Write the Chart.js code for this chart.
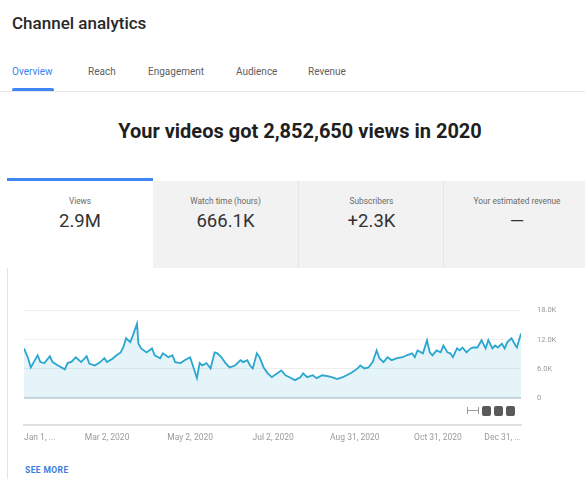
<!DOCTYPE html>
<html><head><meta charset="utf-8">
<script src="https://cdn.jsdelivr.net/npm/chart.js@4.4.0/dist/chart.umd.min.js"></script>
<style>
html,body{margin:0;padding:0;width:585px;height:479px;overflow:hidden;background:#fff;font-family:Roboto,"Noto Sans",Arial,sans-serif;}
.a{position:absolute;white-space:nowrap}
#title{left:12px;top:14px;font-size:17px;line-height:19px;font-weight:500;color:#282828}
.tab{top:67px;font-size:10px;line-height:10px;color:#606060}
#headline{left:0;width:600px;text-align:center;top:120px;font-size:20px;line-height:22px;font-weight:700;color:#1f1f1f}
.card{top:181px;height:87px;text-align:center;overflow:hidden}
.lbl{position:absolute;left:0;right:0;top:16px;font-size:8.3px;line-height:9px;color:#6a6a6a}
.val{position:absolute;left:0;right:0;top:30px;font-size:18.5px;line-height:20px;color:#333}
#seemore{left:25px;top:465px;font-size:8.5px;line-height:10px;font-weight:700;color:#3a7de0;letter-spacing:0.4px}
.sq{top:406px;width:9px;height:10px;background:#5a5a5a;border-radius:2px}
</style></head>
<body>
<div class="a" id="title">Channel analytics</div>
<div class="a tab" style="left:12px;color:#3b82f0">Overview</div>
<div class="a tab" style="left:88px">Reach</div>
<div class="a tab" style="left:148px">Engagement</div>
<div class="a tab" style="left:236px">Audience</div>
<div class="a tab" style="left:308px">Revenue</div>
<div class="a" style="left:12px;top:88px;width:42px;height:3px;background:#3f85f4;border-radius:2px 2px 0 0"></div>
<div class="a" style="left:0;top:91px;width:585px;height:1px;background:#e9e9e9"></div>
<div class="a" id="headline">Your videos got 2,852,650 views in 2020</div>

<div class="a" style="left:7px;top:178px;width:600px;height:310px;border-left:1px solid #e4e4e4"></div>
<div class="a card" style="left:7px;width:146px;background:#fff">
  <div class="lbl">Views</div><div class="val">2.9M</div></div>
<div class="a card" style="left:153px;width:145px;background:#f2f2f2">
  <div class="lbl">Watch time (hours)</div><div class="val">666.1K</div></div>
<div class="a card" style="left:298px;width:145px;background:#f2f2f2;border-left:1px solid #e6e6e6">
  <div class="lbl">Subscribers</div><div class="val">+2.3K</div></div>
<div class="a card" style="left:443px;width:146px;background:#f2f2f2;border-left:1px solid #e6e6e6">
  <div class="lbl">Your estimated revenue</div><div class="val">—</div></div>
<div class="a" style="left:7px;top:178px;width:146px;height:3px;background:#3f85f4"></div>

<div class="a" style="left:0;top:290px;width:585px;height:160px"><canvas id="c" width="585" height="160"></canvas></div>

<div class="a" style="left:467px;top:410px;width:12px;height:1px;background:#9a9a9a"></div>
<div class="a" style="left:467px;top:407px;width:1px;height:7px;background:#9a9a9a"></div>
<div class="a" style="left:478px;top:407px;width:1px;height:7px;background:#9a9a9a"></div>
<div class="a sq" style="left:482px"></div>
<div class="a sq" style="left:494px"></div>
<div class="a sq" style="left:506px"></div>

<div class="a" id="seemore">SEE MORE</div>

<script>
const days = [0,3,5,8,10,12,15,19,21,25,30,32,35,38,42,46,48,52,56,59,61,65,68,71,73,75,78,80,82,83,84,86,90,94,96,100,102,106,109,111,115,118,122,124,127,129,131,134,137,140,142,145,148,151,155,159,161,164,166,168,171,173,176,179,182,186,189,192,195,199,203,205,208,212,215,219,223,226,230,234,237,241,245,247,250,253,256,259,261,264,267,270,274,278,281,285,287,289,293,296,298,300,303,306,308,311,313,315,318,320,322,325,328,330,333,336,339,341,344,346,348,351,353,355,358,361,362,365];
const views = [10200,8200,6300,7800,8800,7400,7200,8600,7400,6700,5900,7200,7500,8400,7400,8600,7100,6700,7400,8200,7400,8100,8800,9400,10500,12300,11500,12900,14500,15300,11200,10200,9400,10200,8800,8200,9200,8400,8800,7400,7200,7800,8400,6700,4100,7200,6700,7200,6100,9400,9200,8400,7200,6300,6700,7800,7400,7800,6700,6100,9200,8400,6300,5100,4300,5100,5700,4700,4300,3700,4300,5100,4300,4700,4100,4700,4500,4300,3900,4300,4700,5300,6100,6700,6100,6300,7400,9800,8200,7400,8400,7800,8200,8400,8800,9200,8400,9800,9200,11900,9400,8800,9800,9400,10800,9400,9200,8400,10200,9800,10400,9400,10200,10400,10400,11900,10200,11900,10200,10800,10400,11200,10200,11500,12300,10800,10400,13300];
const tickDays = [0,61,122,183,243,304,365];
const tickLabels = ['Jan 1, ...','Mar 2, 2020','May 2, 2020','Jul 2, 2020','Aug 31, 2020','Oct 31, 2020','Dec 31, ...'];
const yTicks = [0,6000,12000,18000];
const yTickLabels = ['0','6.0K','12.0K','18.0K'];

new Chart(document.getElementById('c'), {
  type: 'line',
  data: { datasets: [{
    data: days.map((d,i)=>({x:d,y:views[i]})),
    borderColor:'#2aa6d0', borderWidth:1.8, pointRadius:0, tension:0,
    fill:'origin', backgroundColor:'rgba(42,166,208,0.12)'
  }]},
  options: {
    responsive:false, animation:false, devicePixelRatio:1,
    layout:{padding:{left:24,top:20,right:0,bottom:0}},
    plugins:{legend:{display:false},tooltip:{enabled:false}},
    scales:{
      x:{type:'linear',min:0,max:365,
        afterBuildTicks:s=>{s.ticks=tickDays.map(v=>({value:v}));},
        afterFit:s=>{s.height=25;},
        ticks:{autoSkip:false,maxRotation:0,align:'inner',padding:8,color:'#9a9a9a',
          font:{size:8.5,family:'Roboto'},callback:v=>tickLabels[tickDays.indexOf(v)]},
        grid:{display:false,drawTicks:false},
        border:{display:true,color:'#e0e0e0',width:2}},
      y:{position:'right',min:-5522,max:18000,
        afterBuildTicks:s=>{s.ticks=yTicks.map(v=>({value:v}));},
        afterFit:s=>{s.width=64;},
        ticks:{padding:16,color:'#9a9a9a',font:{size:7.5,family:'Roboto'},
          callback:v=>yTickLabels[yTicks.indexOf(v)]},
        grid:{drawTicks:false,
          color:c=>(c.tick&&c.tick.value===0)?'#cdd9de':'#eeeeee',
          lineWidth:c=>(c.tick&&c.tick.value===0)?2:1},
        border:{display:false}}
    }
  }
});
</script>
</body></html>
